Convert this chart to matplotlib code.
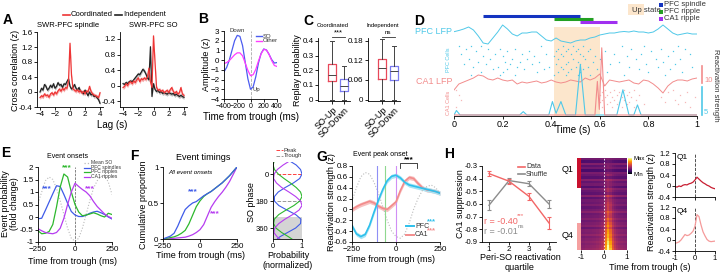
import numpy as np
import matplotlib
matplotlib.use("Agg")
import matplotlib.pyplot as plt
from matplotlib.lines import Line2D
from matplotlib.patches import Rectangle

plt.rcParams['font.family'] = ['Liberation Sans', 'DejaVu Sans']
plt.rcParams['font.size'] = 5.5
plt.rcParams['axes.linewidth'] = 0.6
plt.rcParams['xtick.major.width'] = 0.6
plt.rcParams['ytick.major.width'] = 0.6
plt.rcParams['xtick.major.size'] = 2
plt.rcParams['ytick.major.size'] = 2
plt.rcParams['xtick.major.pad'] = 1.2
plt.rcParams['ytick.major.pad'] = 1.2
plt.rcParams['xtick.labelsize'] = 5.8
plt.rcParams['ytick.labelsize'] = 5.8
plt.rcParams['axes.spines.top'] = False
plt.rcParams['axes.spines.right'] = False

# ---------------- data ----------------
# A: cross correlations, lag -4..4 s in 0.2 s steps
lag = np.round(np.arange(-4, 4.01, 0.2), 1)
spin_coord = [-0.15, -0.1, -0.13, -0.05, -0.1, -0.08, -0.14, -0.05, -0.02, -0.08, 0.0,
              -0.05, 0.03, 0.08, 0.02, 0.1, 0.05, 0.12, 0.1, 0.3, 1.3, 0.45, 0.08, 0.05,
              0.02, 0.06, 0.0, 0.04, -0.03, 0.02, -0.05, 0.03, 0.0, 0.15, 0.02, -0.05,
              -0.08, -0.1, -0.12, -0.15, -0.02]
spin_indep = [0.0, 0.1, 0.05, 0.2, 0.15, 0.05, 0.1, 0.18, 0.12, 0.22, 0.1, 0.15, 0.25,
              0.18, 0.2, 0.12, 0.22, 0.2, 0.28, 0.35, 0.15, 0.08, 0.12, 0.2, 0.1, 0.05,
              0.12, 0.02, 0.0, -0.05, 0.05, -0.02, -0.1, 0.0, -0.08, -0.05, -0.12, -0.1,
              -0.15, -0.2, -0.3]
so_coord = [-0.05, -0.02, 0.05, 0.0, 0.08, 0.1, 0.05, 0.12, 0.08, 0.15, 0.2, 0.1, 0.18,
            0.15, 0.2, 0.16, 0.22, 0.45, 0.1, -0.05, 1.28, 0.6, -0.05, -0.12, -0.1, -0.15,
            -0.12, -0.18, -0.15, -0.12, -0.18, -0.1, -0.05, -0.15, -0.2, -0.15, -0.22,
            -0.18, -0.05, -0.22, -0.25]
so_indep = [0.05, 0.03, 0.08, 0.05, 0.1, 0.12, 0.1, 0.15, 0.2, 0.25, 0.3, 0.28, 0.35,
            0.42, 0.38, 0.3, 0.2, 0.15, 1.0, -0.28, 0.05, -0.1, -0.15, -0.12, -0.18,
            -0.15, -0.2, -0.18, -0.2, -0.22, -0.18, -0.2, -0.22, -0.2, -0.25, -0.22,
            -0.25, -0.28, -0.25, -0.28, -0.3]

# B: SO waveforms
b_time = [-400, -360, -320, -280, -240, -200, -160, -120, -80, -40, 0,
          40, 80, 120, 160, 200, 240, 280, 320, 360, 400]
b_so = [-1.2, -0.75, 0.0, 1.0, 2.0, 2.55, 2.45, 1.5, -0.2, -1.9, -3.0,
        -2.75, -1.7, -0.3, 0.7, 1.15, 1.05, 0.6, 0.05, -0.3, -0.25]
b_other = [-0.35, -0.25, -0.05, 0.25, 0.55, 0.75, 0.75, 0.45, -0.3, -1.05, -1.6,
           -1.5, -0.95, -0.1, 0.65, 1.1, 1.05, 0.6, -0.05, -0.55, -0.65]

# C: replay probability box stats [SO-Up, SO-Down]
c_labels = ['SO-Up', 'SO-Down']
coord_lo = [0.0, 0.0]
coord_q1 = [0.124, 0.056]
coord_med = [0.169, 0.094]
coord_q3 = [0.243, 0.139]
coord_hi = [0.4, 0.231]
indep_lo = [0.0, 0.0]
indep_q1 = [0.062, 0.060]
indep_med = [0.098, 0.087]
indep_q3 = [0.123, 0.103]
indep_hi = [0.185, 0.165]

# D: example event
d_time = np.round(np.arange(0, 1.001, 0.02), 2)
pfc_lfp = [3.3, 4.5, 6, 8, 5, -1, -8, -9, -3, 3, 10, 6, 1, -1, 2, 2, 3, 3, -1, -5, -6,
           -3, -6, -7, -8, -6, -5, -5, -3, -2, 0, 1, 2, 2, 3, 3.5, 3, 4, 3, 3, 2, 3, 6,
           10, 6, 2, 0, 1, 2, 1, 1]
ca1_lfp = [-8, -2, 0, 2, 4, 7, 6, 3, 2, 4, 2, 1, 2, -2, 0, -1, 0, 1, -1, 0, 2, 0, -1,
           0, 2, 1, 0, 4, 2, 4, 8, -4, 2, 1, 0, 1, 2, -1, -2, 2, 1, -2, -6, -11, -4, 0,
           2, 2, 1, 3, 4]
pfc_react_t = [0, 0.01, 0.025, 0.04, 0.27, 0.285, 0.3, 0.39, 0.405, 0.42, 0.44, 0.46,
               0.5, 0.52, 0.54, 0.67, 0.695, 0.72, 0.74, 0.755, 0.77, 1.0]
pfc_react = [0, 0.8, 0, 0, 0, 0.6, 0, 0, 2.4, 0.3, 2.4, 0, 0, 9, 0, 0, 4.5, 0, 0, 1.8, 0, 0]
ca1_react_t = [0, 0.58, 0.59, 0.598, 0.608, 0.62, 1.0]
ca1_react = [0, 0, 6, 1, 12, 0, 0]
pfc_spikes = [
    [0.02, 0.07, 0.11, 0.36, 0.45, 0.49, 0.53, 0.69, 0.78, 0.92],
    [0.05, 0.14, 0.19, 0.25, 0.43, 0.47, 0.51, 0.56, 0.73, 0.85, 0.95],
    [0.09, 0.22, 0.31, 0.42, 0.46, 0.5, 0.55, 0.62, 0.81, 0.9],
    [0.03, 0.17, 0.28, 0.38, 0.44, 0.48, 0.52, 0.66, 0.77, 0.97],
    [0.12, 0.2, 0.33, 0.41, 0.45, 0.53, 0.58, 0.71, 0.88],
    [0.06, 0.15, 0.24, 0.3, 0.43, 0.49, 0.54, 0.6, 0.75, 0.83, 0.93],
    [0.1, 0.21, 0.27, 0.35, 0.47, 0.51, 0.57, 0.68, 0.86],
    [0.04, 0.13, 0.23, 0.32, 0.42, 0.46, 0.52, 0.64, 0.79, 0.91],
    [0.08, 0.18, 0.26, 0.39, 0.44, 0.5, 0.55, 0.72, 0.84, 0.98],
    [0.16, 0.22, 0.29, 0.37, 0.45, 0.48, 0.53, 0.59, 0.76, 0.89],
    [0.11, 0.2, 0.34, 0.43, 0.47, 0.52, 0.63, 0.8, 0.94],
    [0.07, 0.19, 0.25, 0.41, 0.46, 0.51, 0.56, 0.7, 0.87],
]
ca1_spikes = [
    [0.01, 0.62, 0.66, 0.7, 0.74, 0.9],
    [0.61, 0.64, 0.68, 0.72, 0.88, 0.96],
    [0.02, 0.6, 0.63, 0.67, 0.71, 0.76, 0.93],
    [0.62, 0.65, 0.69, 0.73, 0.85, 0.99],
    [0.03, 0.61, 0.66, 0.7, 0.75, 0.91],
    [0.6, 0.64, 0.68, 0.72, 0.87, 0.95],
    [0.63, 0.67, 0.71, 0.78, 0.92],
    [0.01, 0.61, 0.65, 0.69, 0.74, 0.97],
]
event_names = ['PFC spindle', 'PFC ripple', 'CA1 ripple']
event_start = [0.12, 0.41, 0.52]
event_end = [0.52, 0.57, 0.67]
up_start, up_end = 0.41, 0.60

# E: event onset probability
e_time = [-250, -225, -200, -175, -150, -125, -100, -75, -50, -25, 0,
          25, 50, 75, 100, 125, 150, 175, 200, 225, 250]
e_so = [0.55, 1.0, 1.45, 1.6, 1.5, 1.15, 0.65, 0.1, -0.45, -0.85, -0.97,
        -0.85, -0.45, 0.1, 0.65, 1.15, 1.45, 1.62, 1.65, 1.4, 0.9]
e_spindle = [-0.07, -0.05, 0.27, 0.6, 0.93, 1.25, 1.22, 0.9, 0.55, 0.22, 0.08,
             0.02, 0.02, 0.07, 0.15, 0.2, 0.23, 0.17, 0.1, 0.0, -0.08]
e_pfc_ripple = [-0.55, -0.67, -0.65, -0.58, -0.3, 0.4, 1.2, 1.72, 1.6, 1.0, 0.5,
                0.2, 0.05, 0.08, 0.12, 0.17, 0.12, 0.05, 0.0, 0.15, 0.1]
e_ca1_ripple = [-0.47, -0.55, -0.62, -0.65, -0.67, -0.62, -0.45, -0.05, 0.5, 1.0, 1.35,
                1.22, 1.1, 1.0, 0.85, 0.62, 0.42, 0.27, 0.12, 0.02, -0.05]

# F: cumulative onsets
f_spindle = [0, 0.02, 0.04, 0.08, 0.18, 0.3, 0.41, 0.46, 0.5, 0.52, 0.56,
             0.6, 0.63, 0.66, 0.7, 0.74, 0.78, 0.83, 0.88, 0.94, 1.0]
f_pfc_ripple = [0, 0.01, 0.02, 0.03, 0.05, 0.08, 0.12, 0.21, 0.33, 0.45, 0.53,
                0.59, 0.63, 0.66, 0.7, 0.74, 0.78, 0.83, 0.88, 0.94, 1.0]
f_ca1_ripple = [0, 0.0, 0.005, 0.01, 0.015, 0.02, 0.025, 0.04, 0.06, 0.09, 0.13,
                0.2, 0.32, 0.44, 0.52, 0.59, 0.65, 0.72, 0.8, 0.9, 1.0]
phase = [-90, -60, -30, 0, 30, 60, 90, 120, 150, 180, 210, 240, 270, 300, 330, 360, 390, 420, 450]
ph_spindle = [0.55, 0.8, 0.95, 1.0, 0.92, 0.7, 0.42, 0.18, 0.05, 0.05, 0.2, 0.48, 0.78,
              0.96, 0.95, 0.78, 0.5, 0.22, 0.06]
ph_pfc_ripple = [0.05, 0.0, 0.05, 0.18, 0.38, 0.6, 0.8, 0.95, 1.0, 0.92, 0.72, 0.45, 0.2,
                 0.05, 0.02, 0.1, 0.3, 0.55, 0.78]
ph_ca1_ripple = [0.6, 0.35, 0.15, 0.04, 0.02, 0.12, 0.3, 0.55, 0.78, 0.95, 1.0, 0.9, 0.68,
                 0.42, 0.2, 0.06, 0.03, 0.15, 0.35]

# G: reactivation strength around SO trough
g_pfc = [-0.3, -0.45, -0.5, -0.46, -0.29, -0.05, 0.17, 0.37, 0.53, 0.61, 0.63,
         0.58, 0.5, 0.45, 0.43, 0.41, 0.39, 0.37, 0.35, 0.33, 0.3]
g_ca1 = [0.0, 0.05, 0.09, 0.12, 0.15, 0.12, 0.06, 0.02, 0.0, 0.07, 0.14,
         0.35, 0.52, 0.59, 0.57, 0.48, 0.4, 0.36, 0.35, 0.33, 0.3]
g_so = [0.15, 0.4, 0.6, 0.68, 0.65, 0.5, 0.3, 0.05, -0.2, -0.4, -0.5,
        -0.53, -0.45, -0.25, 0.0, 0.2, 0.35, 0.42, 0.45, 0.4, 0.3]
g_sem = 0.04
g_event_peaks = [-110, -60, 0]

# H: CA1 suppression by quartile
quartile = [1, 2, 3, 4]
data_mean = [-0.36, -0.42, -0.54, -0.75]
data_err = [0.02, 0.02, 0.025, 0.05]
shuf_mean = [-0.61, -0.415, -0.44, -0.6]
shuf_err = [0.04, 0.02, 0.02, 0.035]

heat_profile = [0.1, 0.1, 0.12, 0.12, 0.13, 0.14, 0.15, 0.17, 0.2, 0.25, 0.35,
                0.7, 1.0, 0.75, 0.45, 0.3, 0.22, 0.18, 0.15, 0.13, 0.12]
row_peak = [0.05, 0.1, 0.0, 0.15, 0.08, 0.12, 0.05, 0.2, 0.1, 0.15, 0.18, 0.12, 0.22,
            0.2, 0.25, 0.18, 0.3, 0.28, 0.25, 0.35, 0.32, 0.4, 0.35, 0.42, 0.45, 0.4,
            0.5, 0.48, 0.55, 0.6, 0.58, 0.65, 0.7, 0.68, 0.75, 0.8, 0.85, 0.9, 0.95, 1.0]
row_base = [0.42, 0.3, 0.48, 0.34, 0.42, 0.28, 0.45, 0.38, 0.33, 0.47, 0.36, 0.42, 0.3,
            0.44, 0.37, 0.34, 0.46, 0.32, 0.4, 0.36, 0.42, 0.33, 0.39, 0.45, 0.35, 0.38,
            0.42, 0.36, 0.39, 0.42, 0.33, 0.4, 0.38, 0.44, 0.36, 0.39, 0.42, 0.38, 0.4, 0.42]
q_time = np.round(np.arange(-1, 1.001, 0.1), 1)
q1_trace = [-0.02, -0.04, 0.0, -0.02, 0.03, 0.05, 0.04, 0.08, 0.1, 0.14, 0.22,
            0.32, 0.25, 0.18, 0.12, 0.08, 0.03, 0.0, -0.05, -0.08, -0.1]
q4_trace = [-0.12, -0.1, -0.07, 0.0, 0.1, 0.2, 0.16, 0.18, 0.24, 0.32, 0.5,
            0.92, 0.85, 0.55, 0.3, 0.15, 0.02, -0.04, -0.06, -0.05, -0.04]

# colours
RED = '#EE3535'
CYAN = '#4FC8E8'
PINK = '#F28C8C'
BLUE = '#3F5BE8'
GREEN = '#2DB82D'
PURPLE = '#B63CF0'

W, H = 720, 274
fig = plt.figure(figsize=(7.2, 2.74), dpi=100)


def axpx(x0, y0, x1, y1):
    return fig.add_axes([x0 / W, 1 - y1 / H, (x1 - x0) / W, (y1 - y0) / H])


def ftext(x, y, s, **kw):
    kw.setdefault('ha', 'center')
    kw.setdefault('va', 'center')
    fig.text(x / W, 1 - y / H, s, **kw)


def fline(xs, ys, **kw):
    fig.add_artist(Line2D([x / W for x in xs], [1 - y / H for y in ys], **kw))


def frect(x0, y0, x1, y1, **kw):
    fig.add_artist(Rectangle((x0 / W, 1 - y1 / H), (x1 - x0) / W, (y1 - y0) / H, **kw))


def letter(x, y, s):
    ftext(x, y, s, fontsize=10, fontweight='bold')


# ---------------- A ----------------
for x0, x1, y0, y1, ylim, yt, c1, c2, title, tx in [
        (37, 103, 32, 107, (-0.4, 1.6), [-0.4, 0, 0.4, 0.8, 1.2, 1.6], spin_coord, spin_indep,
         'SWR-PFC spindle', 68),
        (120, 187, 32, 107, (-0.55, 1.38), [-0.4, 0, 0.4, 0.8, 1.2], so_coord, so_indep,
         'SWR-PFC SO', 153)]:
    ax = axpx(x0, y0, x1, y1)
    ax.fill_between(lag, np.array(c2) - 0.05, np.array(c2) + 0.05, color='#BBBBBB', lw=0)
    ax.fill_between(lag, np.array(c1) - 0.05, np.array(c1) + 0.05, color='#F8B0B0', lw=0)
    ax.plot(lag, c2, color='#222222', lw=0.9)
    ax.plot(lag, c1, color=RED, lw=0.9)
    ax.set_xlim(-4.4, 4.4)
    ax.set_ylim(*ylim)
    ax.set_xticks([-4, -2, 0, 2, 4])
    ax.set_yticks(yt)
    ax.set_yticklabels(['%g' % v for v in yt])
    ftext(tx, 25, title, fontsize=5.5)
fline([63, 70], [15, 15], color=RED, lw=1.2)
ftext(71, 15, 'Coordinated', ha='left', fontsize=5.5)
fline([115, 122], [15, 15], color='#222222', lw=1.2)
ftext(123, 15, 'Independent', ha='left', fontsize=5.5)
ftext(112, 125, 'Lag (s)', fontsize=7)
ftext(16, 70, 'Cross correlation (z)', rotation=90, fontsize=6.5)
letter(8, 20, 'A')

# ---------------- B ----------------
ax = axpx(224, 31, 277, 99)
ax.axvline(0, color='#AAAAAA', ls='--', lw=0.6)
ax.plot(b_time, b_so, color='#4C5CF0', lw=0.9)
ax.plot(b_time, b_other, color='#FF3CFF', lw=0.9)
ax.set_xlim(-400, 400)
ax.set_ylim(-4, 3)
ax.set_xticks([-400, -200, 0, 200, 400])
ax.set_yticks([-4, -3, -2, -1, 0, 1, 2, 3])
ax.tick_params(axis='x', labelsize=5.0, pad=1.0)
ax.tick_params(axis='y', labelsize=5.8)
ax.text(-200, 2.75, 'Down', fontsize=4.3, ha='center', va='bottom', color='#333333')
ax.text(25, -3.0, 'Up', fontsize=4.3, ha='left', va='center', color='#333333')
fline([256, 262], [36, 36], color='#4C5CF0', lw=1)
ftext(263, 36, 'SO', ha='left', fontsize=4.3, color='#333333')
fline([256, 262], [40.5, 40.5], color='#FF3CFF', lw=1)
ftext(263, 40.5, 'Other', ha='left', fontsize=4.3, color='#333333')
ftext(251, 117, 'Time from trough (ms)', fontsize=7)
ftext(207, 64, 'Amplitude (z)', rotation=90, fontsize=6.5)
letter(203, 19, 'B')

# ---------------- C ----------------
for x0, lo, q1, med, q3, hi, ylim, yt, ytl, title, sig in [
        (318, coord_lo, coord_q1, coord_med, coord_q3, coord_hi, (-0.01, 0.42),
         [0, 0.1, 0.2, 0.3, 0.4], ['0', '0.1', '0.2', '0.3', '0.4'], 'Coordinated', '***'),
        (368, indep_lo, indep_q1, indep_med, indep_q3, indep_hi, (-0.0045, 0.189),
         [0, 0.06, 0.12, 0.18], ['0', '0.06', '0.12', '0.18'], 'Independent', 'ns')]:
    ax = axpx(x0, 38, x0 + 32, 101)
    stats = [dict(whislo=lo[i], q1=q1[i], med=med[i], q3=q3[i], whishi=hi[i],
                  label=c_labels[i]) for i in range(2)]
    bp = ax.bxp(stats, positions=[1, 2], widths=0.65, showfliers=False,
                medianprops=dict(color='#444444', lw=0.7),
                whiskerprops=dict(color='#444444', lw=0.7),
                capprops=dict(color='#444444', lw=0.7))
    for b, c in zip(bp['boxes'], ['#E8485A', '#7A7AF0']):
        b.set_color(c)
        b.set_linewidth(0.9)
    ax.set_xlim(-0.15, 2.45)
    ax.set_ylim(*ylim)
    ax.set_yticks(yt)
    ax.set_yticklabels(ytl)
    ax.set_xticklabels(c_labels, rotation=45, ha='right', rotation_mode='anchor', fontsize=6.5)
    xa = x0 + 14
    xb = x0 + 26.5
    fline([xa, xb], [36.5, 36.5], color='#333333', lw=0.6)
    ftext((xa + xb) / 2, 33 if sig == '***' else 32.5, sig, fontsize=5.5 if sig == '***' else 4.5)
    ftext(x0 + 15, 25, title, fontsize=4.2)
ftext(297.5, 70, 'Replay probability', rotation=90, fontsize=6.5)
letter(308, 21, 'C')

# ---------------- D ----------------
ax = axpx(454, 3, 697, 116)
ax.set_xlim(0, 1)
ax.set_ylim(116, 3)
ax.spines['left'].set_visible(False)
ax.set_yticks([])
ax.set_xticks([0, 0.2, 0.4, 0.6, 0.8, 1])
ax.set_xticklabels(['0', '0.2', '0.4', '0.6', '0.8', '1'])
ax.tick_params(axis='x', labelsize=6.5)
ax.add_patch(Rectangle((up_start, 27), up_end - up_start, 89, color='#FCE6CC', lw=0))
for i, (s, e, c) in enumerate(zip(event_start, event_end, ['#1434C0', '#22A022', '#A030F0'])):
    ax.plot([s, e], [16.5 + 3 * i, 16.5 + 3 * i], color=c, lw=2.2, solid_capstyle='butt')
ax.plot(d_time, 35 - np.array(pfc_lfp), color=CYAN, lw=0.7)
ax.plot(d_time, 82 - np.array(ca1_lfp), color=PINK, lw=0.7)
for i, row in enumerate(pfc_spikes):
    ax.plot(row, [46 + 2.6 * i] * len(row), ls='none', marker='s', ms=0.9, color=CYAN, mew=0)
for i, row in enumerate(ca1_spikes):
    ax.plot(row, [90 + 2.4 * i] * len(row), ls='none', marker='s', ms=0.9, color='#F6B8B8', mew=0)
ax.plot(pfc_react_t, 115 - 5.6 * np.array(pfc_react), color=CYAN, lw=0.8)
ax.plot(ca1_react_t, 115 - 5.6 * np.array(ca1_react), color=PINK, lw=0.8)
ftext(452, 32, 'PFC LFP', ha='right', color=CYAN, fontsize=6.5)
ftext(452, 82, 'CA1 LFP', ha='right', color=PINK, fontsize=6.5)
ftext(449, 60, 'PFC Cells', rotation=90, color=CYAN, fontsize=4)
ftext(449, 103, 'CA1 Cells', rotation=90, color=PINK, fontsize=4)
frect(628, 4, 644, 15, color='#FCE6CC', lw=0)
ftext(632, 10, 'Up state', ha='left', fontsize=5.5, color='#333333')
for i, (name, c) in enumerate(zip(event_names, ['#1434C0', '#22A022', '#A030F0'])):
    frect(659, 2.5 + 7 * i, 663, 6.5 + 7 * i, color=c, lw=0)
    ftext(664, 4.5 + 7 * i, name, ha='left', fontsize=5.5, color='#333333')
fline([702, 702], [66, 83], color=PINK, lw=1.2)
ftext(704, 81, '10', ha='left', color=PINK, fontsize=5.5)
fline([702, 702], [87, 115], color=CYAN, lw=1.2)
ftext(704, 113, '5', ha='left', color=CYAN, fontsize=5.5)
ftext(715.5, 85, 'Reactivation strength', rotation=-90, fontsize=5.5, color='#333333')
ftext(573, 130, 'Time (s)', fontsize=7)
letter(419, 21, 'D')

# ---------------- E ----------------
ax = axpx(38, 167, 112, 242)
ax.plot(e_time, e_so, color='#BBBBBB', ls=':', lw=0.8)
ax.axvline(0, color='#555555', ls='--', lw=0.5)
ax.plot(e_time, e_spindle, color=BLUE, lw=0.9)
ax.plot(e_time, e_pfc_ripple, color=GREEN, lw=0.9)
ax.plot(e_time, e_ca1_ripple, color=PURPLE, lw=0.9)
ax.set_xlim(-250, 250)
ax.set_ylim(-1, 2)
ax.set_xticks([-250, 0, 250])
ax.set_yticks([-1, -0.5, 0, 0.5, 1, 1.5, 2])
ax.set_yticklabels(['-1', '-0.5', '0', '0.5', '1', '1.5', '2'])
ftext(68, 156, 'Event onsets', fontsize=5)
for i, (name, c, ls) in enumerate(zip(['Mean SO', 'PFC spindles', 'PFC ripples', 'CA1 ripples'],
                                      ['#BBBBBB', BLUE, GREEN, PURPLE], [':', '-', '-', '-'])):
    fline([84, 90], [163 + 4.5 * i] * 2, color=c, ls=ls, lw=0.9)
    ftext(91, 163 + 4.5 * i, name, ha='left', fontsize=3.6, color='#333333')
ftext(47, 189, '***', color=BLUE, fontsize=6, fontweight='bold')
ftext(67, 167.5, '***', color=GREEN, fontsize=6, fontweight='bold')
ftext(90, 189, '***', color=PURPLE, fontsize=6, fontweight='bold')
ftext(73, 261, 'Time from trough (ms)', fontsize=6.5)
ftext(10, 204, 'Event probability\n(fold change)', rotation=90, fontsize=6.5, linespacing=1.1)
letter(6, 153, 'E')

# ---------------- F ----------------
ax = axpx(163, 167, 237, 239)
ax.plot(e_time, f_ca1_ripple, color=PURPLE, lw=0.9)
ax.plot(e_time, f_pfc_ripple, color=GREEN, lw=0.9)
ax.plot(e_time, f_spindle, color=BLUE, lw=0.9)
ax.set_xlim(-250, 250)
ax.set_ylim(0, 1)
ax.set_xticks([-250, 0, 250])
ax.set_yticks([0, 0.5, 1])
ax.set_yticklabels(['0', '0.5', '1'])
ftext(203, 157, 'Event timings', fontsize=6.5)
ftext(168, 173, 'All event onsets', ha='left', fontsize=4.5, style='italic')
ftext(193, 192, '***', color=BLUE, fontsize=6, fontweight='bold')
ftext(215, 214, '***', color=PURPLE, fontsize=6, fontweight='bold')
ftext(200, 256, 'Time from trough (ms)', fontsize=6.5)
ftext(143, 205, 'Cumulative proportion', rotation=90, fontsize=6.5)
letter(134, 156, 'F')

ax = axpx(273, 162, 302, 239)
ax.axhspan(285, 433, color='#D4D4D4', lw=0)
ax.plot([0.15, 1], [0, 0], color='#FF4040', ls='--', lw=0.7)
ax.plot([0.15, 1], [180, 180], color='#999999', ls='--', lw=0.7)
ax.plot(ph_spindle, phase, color=BLUE, lw=0.8)
ax.plot(ph_pfc_ripple, phase, color=GREEN, lw=0.8)
ax.plot(ph_ca1_ripple, phase, color=PURPLE, lw=0.8)
ax.set_xlim(0, 1)
ax.set_ylim(433, -80)
ax.set_yticks([0, 180, 360])
ax.set_xticks([0, 1])
ax.tick_params(labelsize=5.5)
fline([276, 283], [150, 150], color='#FF4040', ls='--', lw=0.7)
ftext(284, 150, 'Peak', ha='left', fontsize=4.2, color='#333333')
fline([276, 283], [156, 156], color='#999999', ls='--', lw=0.7)
ftext(284, 156, 'Trough', ha='left', fontsize=4.2, color='#333333')
ftext(251, 202, 'SO phase', rotation=90, fontsize=6.5)
ftext(288, 255, 'Probability', fontsize=6.5)
ftext(288, 265, '(normalized)', fontsize=6.5)

# ---------------- G ----------------
ax = axpx(352, 166, 440, 242)
ax.plot(e_time, g_so, color='#BBBBBB', ls=':', lw=0.8)
for tp, c in zip(g_event_peaks, ['#8F8FF5', '#8FD88F', '#D08FF5']):
    ax.axvline(tp, color=c, lw=0.8)
ax.fill_between(e_time, np.array(g_ca1) - g_sem, np.array(g_ca1) + g_sem, color='#F8C0C0', lw=0)
ax.fill_between(e_time, np.array(g_pfc) - g_sem, np.array(g_pfc) + g_sem, color='#A8E4F4', lw=0)
ax.plot(e_time, g_ca1, color=PINK, lw=1.2)
ax.plot(e_time, g_pfc, color='#2EC0EC', lw=1.2)
ax.set_xlim(-250, 250)
ax.set_ylim(-0.6, 0.8)
ax.set_xticks([-250, 0, 250])
yt = [-0.6, -0.4, -0.2, 0, 0.2, 0.4, 0.6, 0.8]
ax.set_yticks(yt)
ax.set_yticklabels(['%g' % v for v in yt])
ftext(380, 154.5, 'Event peak onset', fontsize=5)
fline([400, 400, 417, 417], [168, 162.5, 162.5, 168], color='#222222', lw=0.6)
ftext(408.5, 159.5, '***', fontsize=6, fontweight='bold')
fline([406, 414], [226, 226], color='#2EC0EC', lw=1.4)
ftext(415, 226, 'PFC', ha='left', fontsize=5, color='#333333')
ftext(427, 222, '***', ha='left', color='#2EC0EC', fontsize=5.5, fontweight='bold')
fline([406, 414], [235, 235], color=PINK, lw=1.4)
ftext(415, 235, 'CA1', ha='left', fontsize=5, color='#333333')
ftext(427, 231, '***', ha='left', color=PINK, fontsize=5.5, fontweight='bold')
ftext(390, 260, 'Time from trough (ms)', fontsize=6.5)
ftext(331, 202, 'Reactivation strength (z)', rotation=90, fontsize=6.5)
letter(322, 157, 'G')

# ---------------- H ----------------
ax = axpx(482, 166, 556, 242)
ax.errorbar(quartile, shuf_mean, yerr=shuf_err, color='#8C8C8C', lw=1.0, capsize=1.5,
            elinewidth=0.8, capthick=0.8)
ax.errorbar(quartile, data_mean, yerr=data_err, color='#F26666', lw=1.0, capsize=1.5,
            elinewidth=0.8, capthick=0.8)
ax.set_xlim(0.65, 4.35)
ax.set_ylim(-0.9, -0.3)
ax.set_xticks(quartile)
yt = [-0.9, -0.8, -0.7, -0.6, -0.5, -0.4, -0.3]
ax.set_yticks(yt)
ax.set_yticklabels(['%g' % v for v in yt])
ax.tick_params(axis='y', labelsize=5.5)
fline([518, 525], [167, 167], color='#F26666', lw=1.2)
ftext(526, 167, 'Data', ha='left', fontsize=5, color='#333333')
fline([518, 525], [174, 174], color='#8C8C8C', lw=1.2)
ftext(526, 174, 'Shuffle', ha='left', fontsize=5, color='#333333')
ftext(484, 221, 'r = -0.40', ha='left', color='#F26666', fontsize=6.5)
ftext(517, 216, '***', ha='left', color='#F26666', fontsize=4.5)
ftext(484, 231, 'r = -0.01', ha='left', color='#8C8C8C', fontsize=6.5)
ftext(518, 226.5, 'ns', ha='left', color='#8C8C8C', fontsize=4.5)
ftext(520, 258, 'Peri-SO reactivation', fontsize=6.5)
ftext(520, 268, 'quartile', fontsize=6.5)
ftext(461, 204, 'CA1 suppression', rotation=90, fontsize=6.5)
letter(449, 154, 'H')

# heatmap
heat = np.array(row_base)[:, None] + np.array(row_peak)[:, None] * np.array(heat_profile)[None, :]
ax = axpx(581, 158, 627, 250)
im = ax.imshow(heat, aspect='auto', cmap='inferno', extent=[-1, 1, len(row_peak), 0],
               vmin=0.0, vmax=1.35, interpolation='nearest')
ax.axvline(0, color='white', ls='--', lw=0.6, dashes=(2, 2))
ax.set_xticks([-1, 0, 1])
ax.set_yticks([])
ax.spines['left'].set_visible(False)
ax.spines['bottom'].set_visible(False)
ax.tick_params(axis='x', length=2)
ax.set_xticklabels(['-1', '0', '1'])
frect(577, 158, 580.5, 188, color='#C8102E', lw=0)
frect(577, 223, 580.5, 250, color='#F5A0A0', lw=0)
ftext(568, 169, 'Q1', fontsize=6.5)
ftext(568, 235, 'Q4', fontsize=6.5)
cax = axpx(628, 158, 631.5, 174)
cb = fig.colorbar(im, cax=cax)
cb.set_ticks([])
cb.outline.set_visible(False)
ftext(633, 159, 'Max', ha='left', fontsize=4.3)
ftext(633, 174, 'Min', ha='left', fontsize=4.3)

for y0, y1, tr, c, lab, showx in [(153, 197, q1_trace, '#C81E32', 'Q1', False),
                                  (207, 251, q4_trace, '#F59A9A', 'Q4', True)]:
    ax = axpx(675, y0, 715, y1)
    ax.axvline(0, color='#333333', ls='--', lw=0.6)
    ax.plot(q_time, tr, color=c, lw=0.9)
    ax.set_xlim(-1, 1)
    ax.set_ylim(-0.4, 1.2)
    ax.set_xticks([-1, 0, 1])
    yt = [-0.4, 0, 0.4, 0.8, 1.2]
    ax.set_yticks(yt)
    ax.set_yticklabels(['%g' % v for v in yt])
    ax.tick_params(labelsize=5.5)
    if not showx:
        ax.set_xticklabels([])
    else:
        ax.set_xticklabels(['-1', '0', '1'])
    ax.text(-0.92, 1.15, lab, fontsize=6, va='top', ha='left')
ftext(652, 202, 'Reactivation strength (z)', rotation=90, fontsize=6.5)
ftext(650, 268, 'Time from trough (s)', fontsize=6.5)

fig.savefig('out.png', dpi=100)
